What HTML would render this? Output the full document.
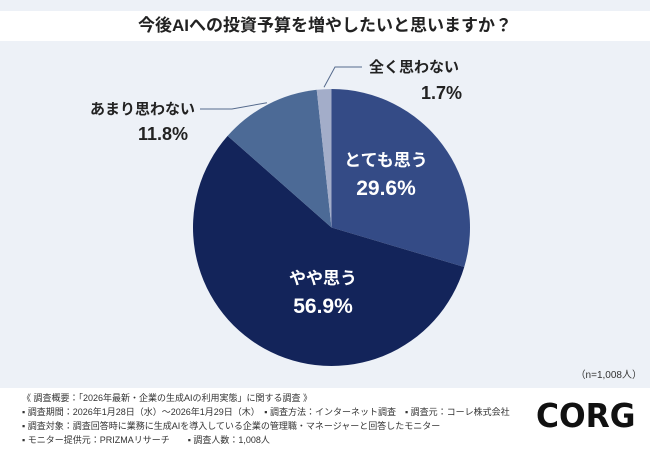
<!DOCTYPE html>
<html><head><meta charset="utf-8">
<style>
body{margin:0;width:650px;height:450px;overflow:hidden;background:#edf1f7;font-family:"Liberation Sans","Noto Sans CJK JP",sans-serif;position:relative}
.t{position:absolute;white-space:nowrap}
</style></head><body>
<div style="position:absolute;left:0;top:11px;width:650px;height:30px;background:#fff"></div>
<div class="t" style="left:0;width:650px;text-align:center;top:12px;font-size:17px;font-weight:bold;color:#222;line-height:28px">今後AIへの投資予算を増やしたいと思いますか？</div>
<svg id="chart" width="650" height="450" style="position:absolute;left:0;top:0"></svg>
<div class="t" style="right:8px;top:366px;font-size:10px;color:#333">（n=1,008人）</div>
<div style="position:absolute;left:0;top:388px;width:650px;height:62px;background:#fff"></div>
<div style="position:absolute;left:22px;top:391px;font-size:9px;color:#333;line-height:14px;white-space:nowrap">
《 調査概要：「2026年最新・企業の生成AIの利用実態」に関する調査 》<br>
▪ 調査期間：2026年1月28日（水）～2026年1月29日（木）　▪ 調査方法：インターネット調査　▪ 調査元：コーレ株式会社<br>
▪ 調査対象：調査回答時に業務に生成AIを導入している企業の管理職・マネージャーと回答したモニター<br>
▪ モニター提供元：PRIZMAリサーチ　　▪ 調査人数：1,008人</div>
<div class="t" style="left:536px;top:396px;font-size:33px;font-weight:900;color:#111;letter-spacing:0px;font-family:'DejaVu Sans',sans-serif;transform:scaleX(0.95);transform-origin:left">CORG</div>
<script>
const categories=["とても思う","やや思う","あまり思わない","全く思わない"];
const values=[29.6,56.9,11.8,1.7];
const valueLabels=["29.6%","56.9%","11.8%","1.7%"];
const colors=["#344b86","#13245a","#4c6a96","#a3adc9"];
const svg=document.getElementById('chart');
const NS="http://www.w3.org/2000/svg";
const cx=331.5,cy=227.5,r=138.5;
const total=values.reduce((a,b)=>a+b,0);
function pt(a,rr){return [cx+rr*Math.sin(a),cy-rr*Math.cos(a)];}
let ang=0;
const mids=[];
values.forEach((v,i)=>{
  const a0=ang,a1=ang+v/total*2*Math.PI;ang=a1;mids.push((a0+a1)/2);
  const p0=pt(a0,r),p1=pt(a1,r);
  const p=document.createElementNS(NS,'path');
  p.setAttribute('d',`M${cx},${cy}L${p0[0]},${p0[1]}A${r},${r} 0 ${a1-a0>Math.PI?1:0} 1 ${p1[0]},${p1[1]}Z`);
  p.setAttribute('fill',colors[i]);
  
  
  svg.appendChild(p);
});
function txt(x,y,s,size,fill,anchor,name){
  const t=document.createElementNS(NS,'text');
  t.setAttribute('x',x);t.setAttribute('y',y);t.setAttribute('font-size',size);
  t.setAttribute('font-weight','bold');t.setAttribute('fill',fill);t.setAttribute('text-anchor',anchor);
  t.textContent=s;
  
  
  svg.appendChild(t);
}
txt(386,166,categories[0],17,"#fff","middle",'label-0');
txt(386,195,valueLabels[0],21,"#fff","middle",'value-0');
txt(323,284,categories[1],17,"#fff","middle",'label-1');
txt(323,313,valueLabels[1],21,"#fff","middle",'value-1');
function line(pts,name){
  const l=document.createElementNS(NS,'polyline');
  l.setAttribute('points',pts.map(q=>q.join(',')).join(' '));
  l.setAttribute('fill','none');l.setAttribute('stroke','#556a8c');l.setAttribute('stroke-width','1');
  
  
  svg.appendChild(l);
}
const p2=pt(mids[2],r+2),p3=pt(mids[3],r+2);
line([[p2[0],p2[1]],[232,109],[200,109]],'leader-2');
txt(195,114,categories[2],15,"#222","end",'label-2');
txt(163,140,valueLabels[2],18,"#222","middle",'value-2');
line([[p3[0],p3[1]],[335,67],[362,67]],'leader-3');
txt(369,72,categories[3],15,"#222","start",'label-3');
txt(462,99,valueLabels[3],18,"#222","end",'value-3');
</script>
</body></html>
